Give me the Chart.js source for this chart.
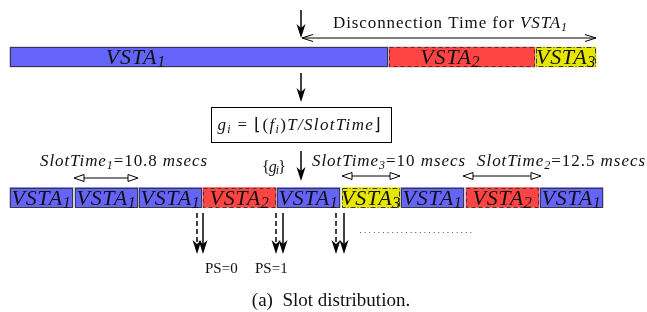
<!DOCTYPE html>
<html>
<head>
<meta charset="utf-8">
<script src="https://cdn.jsdelivr.net/npm/chart.js@4.4.0/dist/chart.umd.min.js"></script>
<style>
    html, body { margin: 0; padding: 0; background: #fff; }
    canvas { display: block; }
</style>
</head>
<body>
<canvas id="slotChart" width="647" height="312"></canvas>
<script>
// DATA (time axis in the figure's own units)
const topStations = [1, 2, 3];
const topStart = [10, 389, 536];
const topEnd = [388, 535, 596];

const slotStations = [1, 1, 1, 2, 1, 3, 1, 2, 1];
const slotStart = [10, 75, 139, 203, 277, 342, 401, 466, 540];
const slotEnd = [73, 138, 202, 276, 340, 400, 464, 539, 603];

const slotTimeIds = ["1", "3", "2"];
const slotTimeValues = ["10.8", "10", "12.5"];
const slotTimeFrom = [74, 342, 463];
const slotTimeTo = [138, 400, 541];

const psLabels = ["PS=0", "PS=1"];

// STYLES
const stationFill = { 1: "#6464fa", 2: "#ff4444", 3: "#e6e600" };
const stationDash = { 1: [], 2: [4, 3], 3: [5, 2, 1, 2] };
const FONT = '"Liberation Serif", "Times New Roman", serif';
const TOP_ROW = 57;
const SLOT_ROW = 197.5;

// rich text: parts = [text, kind], kind r = roman, i = italic, s = subscript
function rich(ctx, parts, x, y, size, width, align) {
    const fontOf = k => (k === "r" ? "" : "italic ") + (k === "s" ? Math.round(size * 0.72) : size) + "px " + FONT;
    ctx.save();
    ctx.letterSpacing = "0px";
    ctx.textBaseline = "alphabetic";
    ctx.textAlign = "left";
    let n = 0, nat = 0;
    const widths = parts.map(([t, k]) => {
        ctx.font = fontOf(k);
        const w = ctx.measureText(t).width;
        nat += w;
        n += [...t].length;
        return w;
    });
    const sp = width ? (width - nat) / n : 0;
    const total = nat + sp * n;
    let cx = align === "center" ? x - total / 2 : x;
    ctx.letterSpacing = sp + "px";
    parts.forEach(([t, k], i) => {
        ctx.font = fontOf(k);
        ctx.fillText(t, cx, k === "s" ? y + size * 0.15 : y);
        cx += widths[i] + sp * [...t].length;
    });
    ctx.restore();
}

function head(ctx, x, y, dx, dy, len, hw, mode) {
    const bx = x - dx * len, by = y - dy * len;
    const px = -dy * hw, py = dx * hw;
    ctx.save();
    ctx.setLineDash([]);
    ctx.beginPath();
    if (mode === "open") {
        ctx.moveTo(bx + px, by + py);
        ctx.lineTo(x, y);
        ctx.lineTo(bx - px, by - py);
        ctx.stroke();
    } else if (mode === "hollow") {
        ctx.moveTo(x, y);
        ctx.lineTo(bx + px, by + py);
        ctx.lineTo(bx - px, by - py);
        ctx.closePath();
        ctx.fillStyle = "#fff";
        ctx.fill();
        ctx.stroke();
    } else {
        ctx.moveTo(x, y);
        ctx.lineTo(bx + px, by + py);
        ctx.lineTo(x - dx * len * 0.72, y - dy * len * 0.72);
        ctx.lineTo(bx - px, by - py);
        ctx.closePath();
        ctx.fillStyle = "#000";
        ctx.fill();
    }
    ctx.restore();
}

function downArrow(ctx, x, y1, y2, dashed) {
    ctx.save();
    ctx.strokeStyle = "#000";
    ctx.lineWidth = 1.5;
    ctx.setLineDash(dashed ? [5, 3] : []);
    ctx.beginPath();
    ctx.moveTo(x, y1);
    ctx.lineTo(x, y2 - 7);
    ctx.stroke();
    head(ctx, x, y2, 0, 1, 14, 4.5, "fill");
    ctx.restore();
}

function hArrow(ctx, x1, x2, y, mode, len, hw) {
    ctx.save();
    ctx.strokeStyle = "#000";
    ctx.lineWidth = 1;
    ctx.beginPath();
    ctx.moveTo(x1 + (mode === "hollow" ? len : 0), y);
    ctx.lineTo(x2 - (mode === "hollow" ? len : 0), y);
    ctx.stroke();
    head(ctx, x1, y, -1, 0, len, hw, mode);
    head(ctx, x2, y, 1, 0, len, hw, mode);
    ctx.restore();
}

const diagramPlugin = {
    id: "diagram",
    afterDatasetsDraw(chart) {
        const ctx = chart.ctx;
        const xs = chart.scales.x;
        const ys = chart.scales.y;
        const X = v => xs.getPixelForValue(v);
        const Y = v => ys.getPixelForValue(v);

        // bar borders and station labels
        const rows = [topStations, slotStations];
        const topLabelShift = [0.333, 0.42, 0.5];
        chart.data.datasets.forEach((ds, di) => {
            const meta = chart.getDatasetMeta(di);
            meta.data.forEach((el, i) => {
                const p = el.getProps(["x", "y", "base", "height"], true);
                const left = Math.min(p.x, p.base), right = Math.max(p.x, p.base);
                const top = p.y - p.height / 2;
                const st = rows[di][i];
                ctx.save();
                ctx.strokeStyle = "#3a3a3a";
                ctx.lineWidth = 1;
                ctx.setLineDash(stationDash[st]);
                ctx.strokeRect(Math.round(left) + 0.5, Math.round(top) + 0.5, Math.round(right - left) - 1, Math.round(p.height) - 1);
                ctx.restore();
                ctx.fillStyle = "#111";
                const cx = di === 0 ? left + (right - left) * topLabelShift[i] : (left + right) / 2;
                rich(ctx, [["VSTA", "i"], [String(st), "s"]], cx, top + 17, 22, 60, "center");
            });
        });

        ctx.save();
        ctx.fillStyle = "#111";
        ctx.strokeStyle = "#000";

        // disconnection time
        downArrow(ctx, X(301), Y(10), Y(38), false);
        hArrow(ctx, X(302), X(596), Y(38), "open", 11, 3.5);
        rich(ctx, [["Disconnection Time for ", "r"], ["VSTA", "i"], ["1", "s"]], X(333), Y(28), 17, 235, "left");

        // formula box
        downArrow(ctx, X(301), Y(73), Y(102), false);
        ctx.lineWidth = 1;
        ctx.strokeRect(X(211) + 0.5, Y(107) + 0.5, X(391) - X(211), Y(142) - Y(107));
        rich(ctx, [["g", "i"], ["i", "s"], [" = ", "r"], ["\u230A(", "r"], ["f", "i"], ["i", "s"], [")", "r"], ["T/SlotTime", "i"], ["\u230B", "r"]],
            X(300), Y(130), 17, 165, "center");

        downArrow(ctx, X(301), Y(151), Y(181), false);
        rich(ctx, [["{", "r"], ["g", "i"], ["i", "s"], ["}", "r"]], X(262), Y(172), 16, 23, "left");

        // slot time annotations
        const stLeft = [40, 312, 477];
        const stRight = [208, 466, 646];
        const stArrowY = [178, 176, 176];
        slotTimeIds.forEach((id, i) => {
            rich(ctx, [["SlotTime", "i"], [id, "s"], ["=" + slotTimeValues[i], "r"], [" msecs", "i"]],
                X(stLeft[i]), Y(166), 17, stRight[i] - stLeft[i], "left");
            hArrow(ctx, X(slotTimeFrom[i]), X(slotTimeTo[i]), Y(stArrowY[i]), "hollow", 10, 3.5);
        });

        // power save arrows
        const psPairs = [[197, 203], [276, 283], [336, 344]];
        psPairs.forEach(([d, s]) => {
            downArrow(ctx, X(d), Y(213), Y(254), true);
            downArrow(ctx, X(s), Y(213), Y(254), false);
        });
        ctx.fillStyle = "#555";
        for (let x = 360; x <= 472; x += 4.6) {
            ctx.fillRect(X(x), Y(232), 1, 1);
        }
        ctx.fillStyle = "#111";
        rich(ctx, [[psLabels[0], "r"]], X(205), Y(273), 15, 0, "left");
        rich(ctx, [[psLabels[1], "r"]], X(255), Y(273), 15, 0, "left");

        // caption
        rich(ctx, [["(a)  Slot distribution.", "r"]], X(331), Y(306), 19, 0, "center");
        ctx.restore();
    }
};

const chart = new Chart(document.getElementById("slotChart"), {
    type: "bar",
    data: {
        datasets: [{
            data: topStations.map((s, i) => ({ x: [topStart[i], topEnd[i]], y: TOP_ROW })),
            backgroundColor: topStations.map(s => stationFill[s]),
            borderWidth: 0,
            barThickness: 20
        }, {
            data: slotStations.map((s, i) => ({ x: [slotStart[i], slotEnd[i]], y: SLOT_ROW })),
            backgroundColor: slotStations.map(s => stationFill[s]),
            borderWidth: 0,
            barThickness: 20
        }]
    },
    options: {
        indexAxis: "y",
        responsive: false,
        animation: false,
        events: [],
        layout: { padding: 0 },
        datasets: { bar: { grouped: false } },
        plugins: {
            legend: { display: false },
            tooltip: { enabled: false }
        },
        scales: {
            x: { type: "linear", min: 0, max: 647, display: false, offset: false },
            y: { type: "linear", min: 0, max: 312, reverse: true, display: false, offset: false }
        }
    },
    plugins: [diagramPlugin]
});
</script>
</body>
</html>
